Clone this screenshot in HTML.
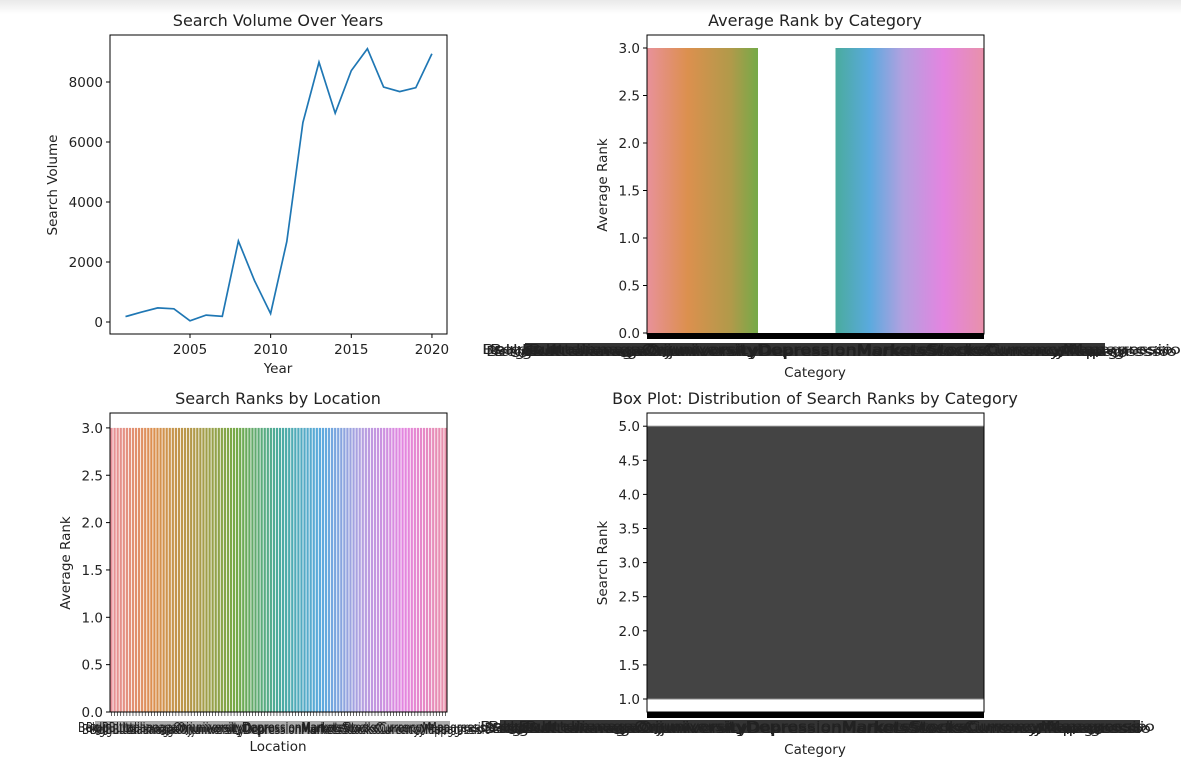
<!DOCTYPE html>
<html><head><meta charset="utf-8">
<style>
body{margin:0;background:#fff;width:1181px;height:763px;overflow:hidden;font-family:"Liberation Sans","DejaVu Sans",sans-serif}
#topbar{position:absolute;left:0;top:0;width:1181px;height:14px;background:linear-gradient(#e9e9e9,#fff)}
svg{position:absolute;left:0;top:0}
text{font-family:"DejaVu Sans","Liberation Sans",sans-serif;fill:#222}
</style></head><body>
<div id="topbar"></div>
<svg id="s" width="1181" height="763">
<defs>
<linearGradient id="g2" x1="0" x2="1">
<stop offset="0" stop-color="#e8919a"/><stop offset="0.12" stop-color="#dc904e"/><stop offset="0.25" stop-color="#b09a4a"/><stop offset="0.33" stop-color="#74aa48"/>
<stop offset="0.33" stop-color="#fff"/><stop offset="0.56" stop-color="#fff"/>
<stop offset="0.56" stop-color="#4aab9e"/><stop offset="0.66" stop-color="#5aaade"/><stop offset="0.76" stop-color="#b4a0e0"/><stop offset="0.88" stop-color="#e484e0"/><stop offset="1" stop-color="#e891aa"/>
</linearGradient>
</defs>
</svg>
<script>
const years=[2001,2002,2003,2004,2005,2006,2007,2008,2009,2010,2011,2012,2013,2014,2015,2016,2017,2018,2019,2020];
const volumes=[180,330,470,440,40,230,190,2700,1380,280,2680,6650,8660,6960,8380,9110,7830,7680,7810,8940];
const volTicks=[0,2000,4000,6000,8000];
const yearTicks=[2005,2010,2015,2020];
const catTicks=[0.0,0.5,1.0,1.5,2.0,2.5,3.0];
const avgRankCategory=[3,3];
const locationCount=110;
const locationRanks=new Array(110).fill(3);
const boxQ=[1.0,5.0];
const boxTicks=[1.0,1.5,2.0,2.5,3.0,3.5,4.0,4.5,5.0];
const s=document.getElementById('s');
const NS='http://www.w3.org/2000/svg';
const FS=13.5;
function el(t,a,txt){const e=document.createElementNS(NS,t);for(const k in a)e.setAttribute(k,a[k]);if(txt!==undefined)e.textContent=txt;s.appendChild(e);return e;}
function frame(x0,y0,x1,y1){const r=el('rect',{x:x0,y:y0,width:x1-x0,height:y1-y0,fill:'none',stroke:'#000','stroke-width':1});}
function yTicks(x0,ticks,fy,fmt){ticks.forEach(v=>{const y=fy(v);el('line',{x1:x0-4,x2:x0,y1:y,y2:y,stroke:'#000'});const t=el('text',{x:x0-7,y:y+5,'text-anchor':'end','font-size':FS},fmt(v));});}
function title(x,y,str){const t=el('text',{x:x,y:y,'text-anchor':'middle','font-size':16},str);}
function label(x,y,str,rot){const a={x:x,y:y,'text-anchor':'middle','font-size':FS};if(rot)a.transform='rotate(-90 '+x+' '+y+')';const t=el('text',a,str);}
function jumble(x0,x1,y,dark,bx0,bx1,op){
 const r=el('rect',{x:bx0,y:y-11,width:bx1-bx0,height:13,fill:dark,opacity:op});
 for(let i=0;i<4;i++){const t=el('text',{x:x0+i*4,y:y+(i%2)*2,'font-size':13,textLength:x1-x0-i*8,lengthAdjust:'spacingAndGlyphs',fill:dark},'BelgBuIttalianagaOrjuniversityDepressionMarketsStocksCurrencyMapagressio');}}

// Chart 1
{const X0=110,X1=447,Y0=35,Y1=334;
const fx=v=>190+(v-2005)*16.13, fy=v=>322-v*0.03;
title(278,26,'Search Volume Over Years');
let d=years.map((y,i)=>(i?'L':'M')+fx(y).toFixed(1)+' '+fy(volumes[i]).toFixed(1)).join(' ');
const p=el('path',{d:d,fill:'none',stroke:'#1f77b4','stroke-width':1.7});
frame(X0,Y0,X1,Y1);
yTicks(X0,volTicks,fy,v=>String(v));
yearTicks.forEach(v=>{const x=fx(v);el('line',{x1:x,x2:x,y1:Y1,y2:Y1+4,stroke:'#000'});const t=el('text',{x:x,y:Y1+20,'text-anchor':'middle','font-size':FS},String(v));});
label(278,373,'Year');label(57,185,'Search Volume',true);}

// Chart 2
{const X0=647,X1=984,Y0=35,Y1=334;const fy=v=>333-v*95;
title(815,26,'Average Rank by Category');
const b=el('rect',{x:X0,y:fy(avgRankCategory[0]),width:X1-X0,height:333-fy(avgRankCategory[0]),fill:'url(#g2)'});
frame(X0,Y0,X1,Y1);
el('rect',{x:X0,y:333,width:X1-X0,height:6,fill:'#000'});
yTicks(X0,catTicks,fy,v=>v.toFixed(1));
jumble(482,1181,354,'#111',525,1105,0.85);
label(815,377,'Category');label(607,185,'Average Rank',true);}

// Chart 3
{const X0=110,X1=447,Y0=413,Y1=712;const fy=v=>712-v*94.7;
title(278,404,'Search Ranks by Location');
const w=(X1-X0)/locationCount;
const cols=['#e8919a','#dc904e','#b09a4a','#74aa48','#4aab9e','#5aaade','#b4a0e0','#e484e0','#e891aa'];
function mix(t){const k=t*(cols.length-1),i=Math.min(Math.floor(k),cols.length-2),f=k-i;const a=cols[i],c=cols[i+1];const h=(s,o)=>parseInt(s.substr(o,2),16);let r='#';for(const o of[1,3,5]){r+=Math.round(h(a,o)*(1-f)+h(c,o)*f).toString(16).padStart(2,'0');}return r;}
locationRanks.forEach((v,i)=>{const r=el('rect',{x:X0+i*w+0.4,y:fy(v),width:w-0.8,height:712-fy(v),fill:mix(i/(locationCount-1))});
el('line',{x1:X0+(i+.5)*w,x2:X0+(i+.5)*w,y1:Y1,y2:Y1+4,stroke:'#000','stroke-width':0.6});});
frame(X0,Y0,X1,Y1);
yTicks(X0,catTicks,fy,v=>v.toFixed(1));
jumble(78,495,732,'#444',95,450,0.45);
label(278,751,'Location');label(70,563,'Average Rank',true);}

// Chart 4
{const X0=647,X1=984,Y0=413,Y1=712;const fy=v=>699-(v-1)*68.2;
title(815,404,'Box Plot: Distribution of Search Ranks by Category');
const b=el('rect',{x:X0,y:fy(boxQ[1]),width:X1-X0,height:fy(boxQ[0])-fy(boxQ[1]),fill:'#444',stroke:'#888','stroke-width':1});
frame(X0,Y0,X1,Y1);
el('rect',{x:X0,y:712,width:X1-X0,height:6,fill:'#000'});
yTicks(X0,boxTicks,fy,v=>v.toFixed(1));
jumble(480,1155,731,'#111',500,1140,0.85);
label(815,754,'Category');label(607,563,'Search Rank',true);}
</script>
</body></html>
